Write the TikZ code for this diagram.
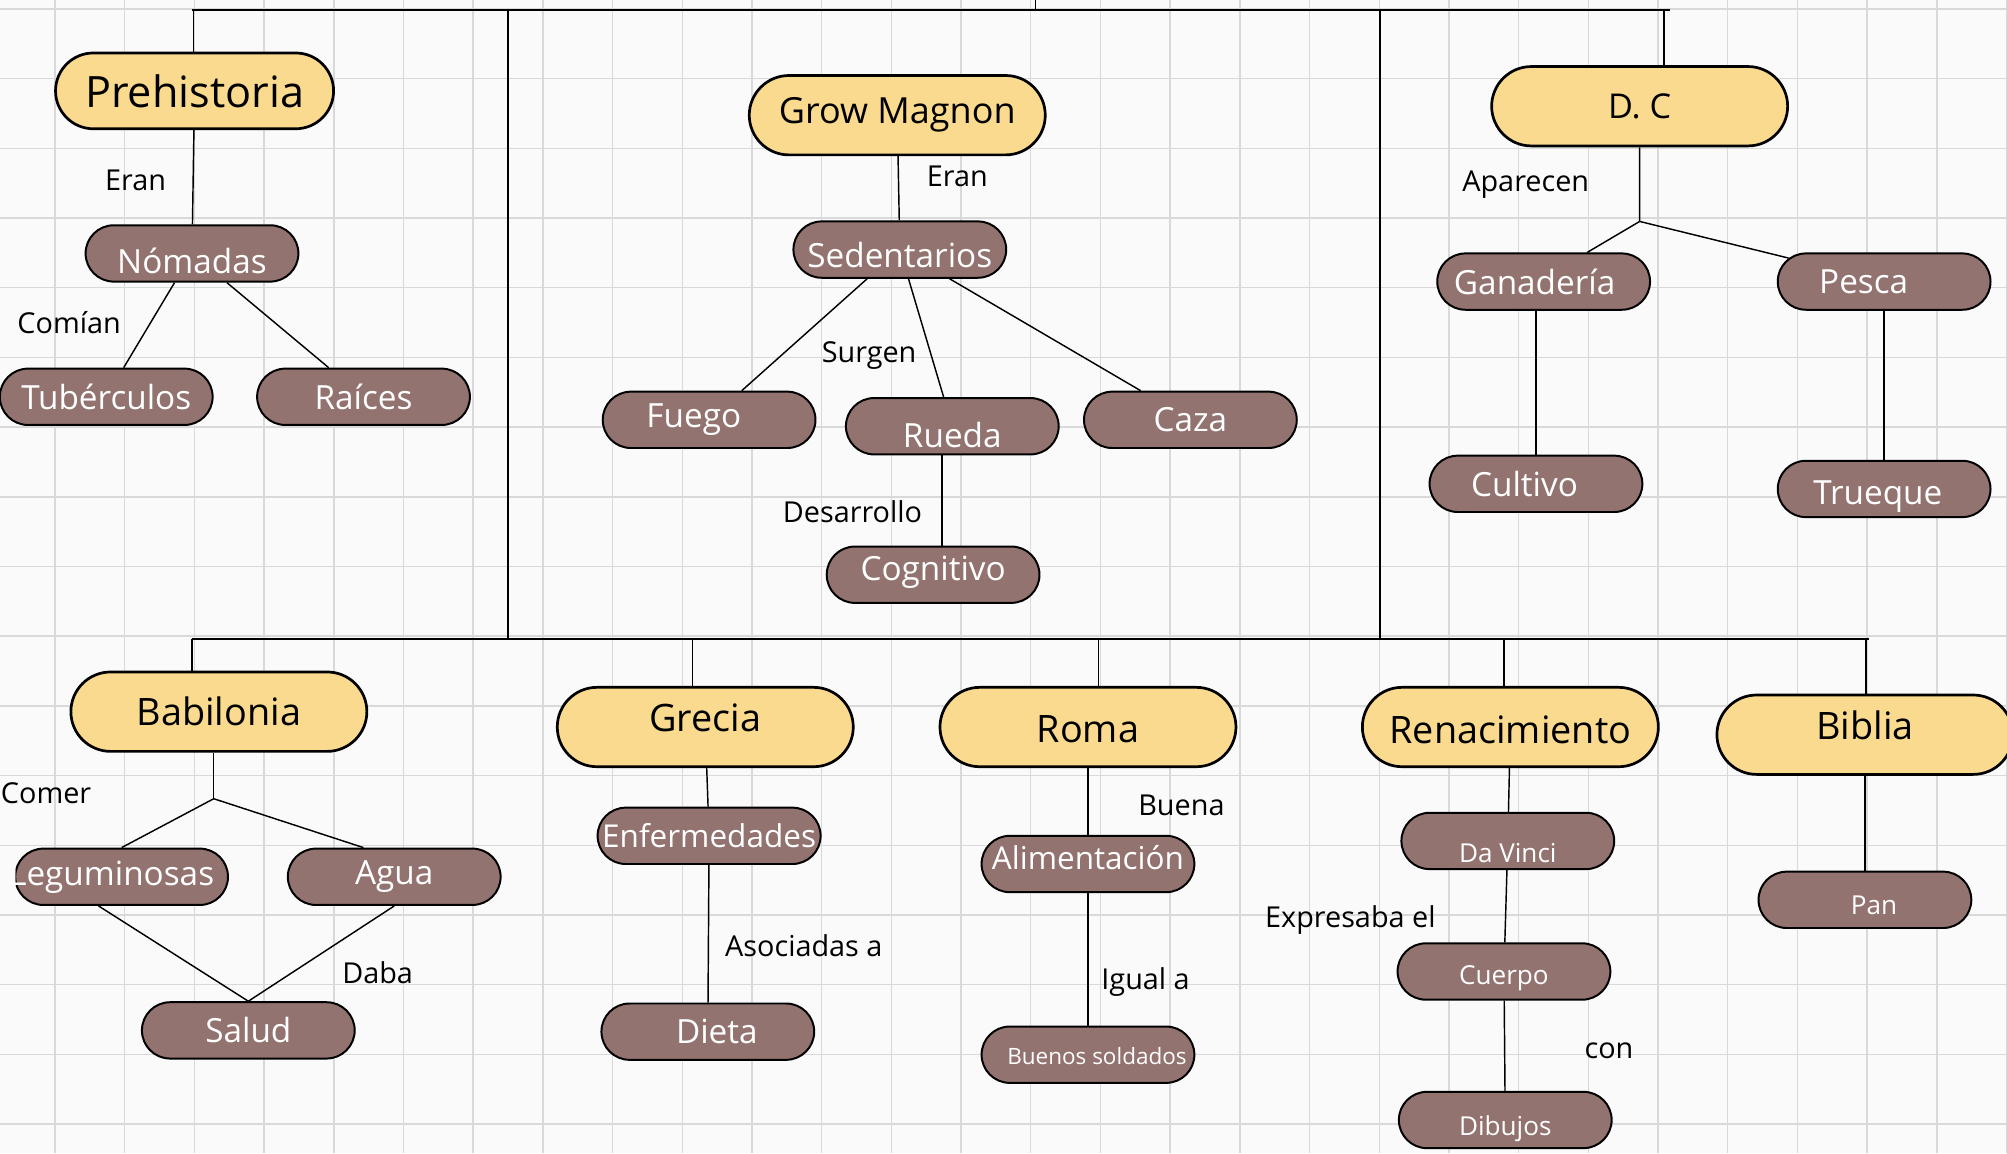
\documentclass[tikz,border=0pt]{standalone}
\usepackage{fontspec}
\setmainfont{Open Sans}
\usetikzlibrary{shapes.misc,calc}
\definecolor{eraYellow}{HTML}{FADA8E}
\definecolor{itemBrown}{HTML}{937370}
\definecolor{paper}{HTML}{FAFAFA}
\definecolor{gridGray}{HTML}{D9D9D9}
% text set off the middle of its box: #1 = twice the sideways move, #2 = lift
\newcommand\nudge[3]{\makebox[0pt]{\hspace*{#1}\raisebox{#2}[\height][\depth]{#3}}}
\tikzset{
  era/.style={rounded rectangle, draw=black, line width=1.5pt, fill=eraYellow,
    minimum width=5.85cm, minimum height=1.55cm, inner sep=1pt,
    font=\fontsize{21}{25}\selectfont},
  item/.style={rounded rectangle, draw=black, line width=1.1pt, fill=itemBrown,
    text=white, minimum width=4.225cm, minimum height=1.1cm, inner sep=1pt,
    font=\fontsize{18.5}{22}\selectfont},
  midtxt/.style={font=\fontsize{17.5}{21}\selectfont},
  smalltxt/.style={font=\fontsize{14.5}{17}\selectfont},
  tag/.style={font=\fontsize{16}{19}\selectfont, inner sep=0pt},
  link/.style={line width=0.8pt},
  bus/.style={line width=1.1pt},
  gridline/.style={draw=gridGray, line width=0.8pt}
}

\begin{document}
\begin{tikzpicture}[x=0.025cm, y=-0.025cm]
				%%%%% PAPER %%%%%
				\def\gstep{54.45}
				\useasboundingbox (0,0) rectangle (1568,901);
				\fill[paper] (0,0) rectangle (1568,901);
				\foreach \gx in {0,...,28} \draw[gridline] ({43+\gstep*\gx},0) -- ({43+\gstep*\gx},901);
				\foreach \gy in {0,...,16} \draw[gridline] (0,{7+\gstep*\gy}) -- (1568,{7+\gstep*\gy});

				%%%%% TOP ROW %%%%%
				\node[era, minimum width=5.5cm, minimum height=1.48cm, font=\fontsize{24}{28}\selectfont] (pre) at (152,71) {Prehistoria};
				\node[item] (nom) at (150,198) {\nudge{0pt}{-4.3pt}{Nómadas}};
				\node[item] (tub) at (83,310) {Tubérculos};
				\node[item] (rai) at (284,310) {Raíces};

				\node[era, font=\fontsize{20}{24}\selectfont] (gm) at (701,90) {Grow Magnon};
				\node[item] (sed) at (703,195) {\nudge{0pt}{-2.8pt}{Sedentarios}};
				\node[item] (fue) at (554,328) {\nudge{-17pt}{0pt}{Fuego}};
				\node[item] (rue) at (744,333) {\nudge{0pt}{-5pt}{Rueda}};
				\node[item] (caz) at (930,328) {Caza};
				\node[item] (cog) at (729,449) {\nudge{0pt}{1.4pt}{Cognitivo}};

				\node[era, font=\fontsize{19}{23}\selectfont] (dc) at (1281,83) {D. C};
				\node[item] (gan) at (1206,220) {\nudge{-10pt}{0pt}{Ganadería}};
				\node[item] (pes) at (1472,220) {\nudge{-22.7pt}{0pt}{Pesca}};
				\node[item] (cul) at (1200,378) {\nudge{-12.8pt}{0pt}{Cultivo}};
				\node[item] (tru) at (1472,382) {\nudge{-7pt}{-4pt}{Trueque}};

				%%%%% BOTTOM ROW %%%%%
				\node[era] (bab) at (171,556) {Babilonia};
				\begin{scope}
				\clip (12,650) rectangle (200,720);
				\node[item] (leg) at (95,685) {\nudge{-11pt}{0pt}{Leguminosas}};
				\end{scope}
				\node[item] (agu) at (308,685) {Agua};
				\node[item] (sal) at (194,805) {Salud};

				\node[era] (gre) at (551,568) {\nudge{0pt}{5pt}{Grecia}};
				\node[item, midtxt] (enf) at (554,653) {Enfermedades};
				\node[item] (die) at (553,806) {\nudge{10pt}{0pt}{Dieta}};

				\node[era] (rom) at (850,568) {\nudge{0pt}{-1.4pt}{Roma}};
				\node[item, midtxt] (ali) at (850,675) {\nudge{0pt}{3.5pt}{Alimentación}};
				\node[item, font=\fontsize{12.5}{15}\selectfont] (bso) at (850,824) {\nudge{10pt}{-0.7pt}{Buenos soldados}};

				\node[era] (ren) at (1180,568) {\nudge{0pt}{-1.4pt}{Renacimiento}};
				\node[item, smalltxt] (dav) at (1178,657) {\nudge{0pt}{-7pt}{Da Vinci}};
				\node[item, smalltxt] (cue) at (1175,759) {\nudge{0pt}{-3.5pt}{Cuerpo}};
				\node[item, smalltxt] (dib) at (1176,875) {\nudge{0pt}{-5pt}{Dibujos}};

				\node[era] (bib) at (1457,574) {\nudge{0pt}{5pt}{Biblia}};
				\node[item, smalltxt] (pan) at (1457,703) {\nudge{10pt}{-3pt}{Pan}};

				%%%%% BUS LINES %%%%%
				\coordinate (ttick) at (809,0);
				\coordinate (tl) at (150,8);
				\coordinate (tr) at (1305,8);
				\coordinate (bl) at (150,499);
				\coordinate (br) at (1460,499);
				\coordinate (v1) at (397,8);
				\coordinate (v2) at (1078,8);
				\draw[bus] (tl) -- (tr);
				\draw[bus] (ttick) -- (ttick |- tl);
				\draw[bus] (v1) -- (v1 |- bl);
				\draw[bus] (v2) -- (v2 |- bl);
				\draw[bus] (bl) -- (br);

				\coordinate (dpre) at (151,8);
				\coordinate (ddc) at (1300,8);
				\draw[link] (dpre) -- (dpre |- pre.north);
				\draw[link] (ddc) -- (ddc |- dc.north);

				\coordinate (dbab) at (150,499);
				\coordinate (dgre) at (541,499);
				\coordinate (drom) at (858,499);
				\coordinate (dren) at (1175,499);
				\coordinate (dbib) at (1458,499);
				\draw[link] (dbab) -- (dbab |- bab.north);
				\draw[link] (dgre) -- (dgre |- gre.north);
				\draw[link] (drom) -- (drom |- rom.north);
				\draw[link] (dren) -- (dren |- ren.north);
				\draw[link] (dbib) -- (dbib |- bib.north);

				%%%%% LINKS %%%%%
				\draw[link] (pre) -- (nom);
				\draw[link] (nom) -- (tub);
				\draw[link] (nom) -- (rai);

				\draw[link] (gm) -- (sed);
				\draw[link] (sed) -- (fue);
				\draw[link] (sed) -- (rue);
				\draw[link] (sed) -- (caz);
				\draw[link] ($(rue.south)+(-8,0)$) -- ($(cog.north)+(7,0)$);

				\coordinate (dsplit) at (1281,173);
				\draw[link] (dc) -- (dsplit);
				\draw[link] (dsplit) -- ($(gan.north)+(34,0)$);
				\draw[link] (dsplit) -- (pes);
				\draw[link] (cul.north) -- (cul.north |- gan.south);
				\draw[link] (pes) -- (tru);

				\coordinate (bsplit) at (167,624);
				\draw[link] (bsplit |- bab.south) -- (bsplit);
				\draw[link] (bsplit) -- (leg.north);
				\draw[link] (bsplit) -- ($(agu.north)+(-24,0)$);
				\draw[link] ($(leg.south)+(-18,0)$) -- (sal.north);
				\draw[link] (agu.south) -- (sal.north);

				\draw[link] (gre) -- (enf);
				\draw[link] (enf) -- (die);
				\draw[link] (rom) -- (ali);
				\draw[link] (ali) -- (bso);
				\draw[link] (ren) -- (dav);
				\draw[link] (dav) -- (cue);
				\draw[link] (cue) -- (dib);
				\draw[link] (bib) -- (pan);

				%%%%% LINK TEXTS %%%%%
				\node[tag] (tEran) at (106,141) {Eran};
				\node[tag] (tComian) at (54,252) {Comían};
				\node[tag] (tEranb) at (748,138) {Eran};
				\node[tag] (tSurgen) at (679,278) {Surgen};
				\node[tag] (tDesarrollo) at (666,400) {Desarrollo};
				\node[tag] (tAparecen) at (1192,144) {Aparecen};
				\node[tag] (tComer) at (36,620) {Comer};
				\node[tag] (tDaba) at (295,760) {Daba};
				\node[tag] (tAsociadas) at (628,739) {Asociadas a};
				\node[tag] (tBuena) at (923,629) {Buena};
				\node[tag] (tIgual) at (895,767) {Igual a};
				\node[tag] (tExpresaba) at (1055,719) {Expresaba el};
				\node[tag] (tCon) at (1257,821) {con};
			\end{tikzpicture}
\end{document}
